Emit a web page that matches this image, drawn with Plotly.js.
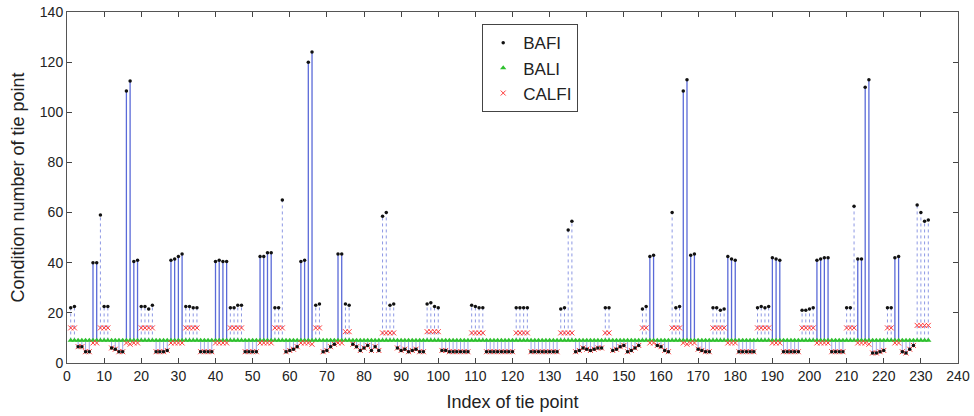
<!DOCTYPE html>
<html>
<head>
<meta charset="utf-8">
<script src="https://cdn.plot.ly/plotly-3.0.1.min.js"></script>
<style>html,body{margin:0;padding:0;background:#fff;}#chart{width:974px;height:416px;}</style>
</head>
<body>
<div id="chart"></div>
<script>
// Condition number of each tie point (index 1..232)
const BAFI = [
  22, 22.5,                         // 1-2
  6.5, 6.5, 4.5, 4.5,               // 3-6
  40, 40,                           // 7-8
  59,                               // 9
  22.5, 22.5,                       // 10-11
  6, 5.5, 4.5, 4.5,                 // 12-15
  108.5, 112.5,                     // 16-17
  40.5, 41,                         // 18-19
  22.5, 22.5, 21.5, 23,             // 20-23
  4.5, 4.5, 4.5, 5,                 // 24-27
  41, 41.5, 42.5, 43.5,             // 28-31
  22.5, 22.5, 22, 22,               // 32-35
  4.5, 4.5, 4.5, 4.5,               // 36-39
  40.5, 41, 40.5, 40.5,             // 40-43
  22, 22, 23, 23,                   // 44-47
  4.5, 4.5, 4.5, 4.5,               // 48-51
  42.5, 42.5, 44, 44,               // 52-55
  22, 22,                           // 56-57
  65,                               // 58
  4.5, 5, 5.5, 6.5,                 // 59-62
  40.5, 41,                         // 63-64
  120, 124,                         // 65-66
  23, 23.5,                         // 67-68
  4.5, 5, 6.5, 7.5,                 // 69-72
  43.5, 43.5,                       // 73-74
  23.5, 23,                         // 75-76
  7.5, 6.5, 5, 6, 7, 5, 6.5, 5,     // 77-84
  58.5, 60,                         // 85-86
  23, 23.5,                         // 87-88
  6, 5, 5.5, 4.5, 5, 5.5, 4.5, 4.5, // 89-96
  23.5, 24, 22.5, 22,               // 97-100
  5, 5, 4.5, 4.5, 4.5, 4.5, 4.5, 4.5, // 101-108
  23, 22.5, 22, 22,                 // 109-112
  4.5, 4.5, 4.5, 4.5, 4.5, 4.5, 4.5, 4.5, // 113-120
  22, 22, 22, 22,                   // 121-124
  4.5, 4.5, 4.5, 4.5, 4.5, 4.5, 4.5, 4.5, // 125-132
  21.5, 22,                         // 133-134
  53, 56.5,                         // 135-136
  4.5, 5, 6, 5.5, 5, 5.5, 6, 6,     // 137-144
  22, 22,                           // 145-146
  5, 5.5, 6.5, 7, 4.5, 5, 6, 7,     // 147-154
  21.5, 22.5,                       // 155-156
  42.5, 43,                         // 157-158
  7, 6.5, 5, 4.5,                   // 159-162
  60,                               // 163
  22, 22.5,                         // 164-165
  108.5, 113,                       // 166-167
  43, 43.5,                         // 168-169
  5.5, 5, 4.5, 4.5,                 // 170-173
  22, 22, 21, 21.5,                 // 174-177
  42.5, 41.5, 41,                   // 178-180
  4.5, 4.5, 4.5, 4.5, 4.5,          // 181-185
  22, 22.5, 22, 22.5,               // 186-189
  42, 41.5, 41,                     // 190-192
  4.5, 4.5, 4.5, 4.5, 4.5,          // 193-197
  21, 21, 21.5, 22,                 // 198-201
  41, 41.5, 42, 42,                 // 202-205
  4.5, 4.5, 4.5, 4.5,               // 206-209
  22, 22,                           // 210-211
  62.5,                             // 212
  41.5, 41.5,                       // 213-214
  110, 113,                         // 215-216
  4, 4, 4.5, 5,                     // 217-220
  22, 22,                           // 221-222
  42, 42.5,                         // 223-224
  4.5, 4, 5.5, 7,                   // 225-228
  63, 60, 56.5, 57                  // 229-232
];

const BALI = [
  9,9,9,9,9,9,9,9,9,9, 9,9,9,9,9,9,9,9,9,9, 9,9,9,9,9,9,9,9,9,9,
  9,9,9,9,9,9,9,9,9,9, 9,9,9,9,9,9,9,9,9,9, 9,9,9,9,9,9,9,9,9,9,
  9,9,9,9,9,9,9,9,9,9, 9,9,9,9,9,9,9,9,9,9, 9,9,9,9,9,9,9,9,9,9,
  9,9,9,9,9,9,9,9,9,9, 9,9,9,9,9,9,9,9,9,9, 9,9,9,9,9,9,9,9,9,9,
  9,9,9,9,9,9,9,9,9,9, 9,9,9,9,9,9,9,9,9,9, 9,9,9,9,9,9,9,9,9,9,
  9,9,9,9,9,9,9,9,9,9, 9,9,9,9,9,9,9,9,9,9, 9,9,9,9,9,9,9,9,9,9,
  9,9,9,9,9,9,9,9,9,9, 9,9,9,9,9,9,9,9,9,9, 9,9,9,9,9,9,9,9,9,9,
  9,9,9,9,9,9,9,9,9,9, 9,9,9,9,9,9,9,9,9,9,9,9
];

const CALFI = [
  14, 14,                           // 1-2
  6.5, 6.5, 4.5, 4.5,               // 3-6
  8, 8,                             // 7-8
  14,                               // 9
  14, 14,                           // 10-11
  6, 5.5, 4.5, 4.5,                 // 12-15
  8, 7.5,                           // 16-17
  8, 8,                             // 18-19
  14, 14, 14, 14,                   // 20-23
  4.5, 4.5, 4.5, 5,                 // 24-27
  8, 8, 8, 8,                       // 28-31
  14, 14, 14, 14,                   // 32-35
  4.5, 4.5, 4.5, 4.5,               // 36-39
  8, 8, 8, 8,                       // 40-43
  14, 14, 14, 14,                   // 44-47
  4.5, 4.5, 4.5, 4.5,               // 48-51
  8, 8, 8, 8,                       // 52-55
  14, 14,                           // 56-57
  14,                               // 58
  4.5, 5, 5.5, 6.5,                 // 59-62
  8, 8,                             // 63-64
  8, 7.5,                           // 65-66
  14, 14,                           // 67-68
  4.5, 5, 6.5, 7.5,                 // 69-72
  8, 8,                             // 73-74
  12.5, 12.5,                       // 75-76
  7.5, 6.5, 5, 6, 7, 5, 6.5, 5,     // 77-84
  12, 12,                           // 85-86
  12, 12,                           // 87-88
  6, 5, 5.5, 4.5, 5, 5.5, 4.5, 4.5, // 89-96
  12.5, 12.5, 12.5, 12.5,           // 97-100
  5, 5, 4.5, 4.5, 4.5, 4.5, 4.5, 4.5, // 101-108
  12, 12, 12, 12,                   // 109-112
  4.5, 4.5, 4.5, 4.5, 4.5, 4.5, 4.5, 4.5, // 113-120
  12, 12, 12, 12,                   // 121-124
  4.5, 4.5, 4.5, 4.5, 4.5, 4.5, 4.5, 4.5, // 125-132
  12, 12,                           // 133-134
  12, 12,                           // 135-136
  4.5, 5, 6, 5.5, 5, 5.5, 6, 6,     // 137-144
  12, 12,                           // 145-146
  5, 5.5, 6.5, 7, 4.5, 5, 6, 7,     // 147-154
  14, 14,                           // 155-156
  8, 8,                             // 157-158
  7, 6.5, 5, 4.5,                   // 159-162
  14,                               // 163
  14, 14,                           // 164-165
  8, 7.5,                           // 166-167
  8, 8,                             // 168-169
  5.5, 5, 4.5, 4.5,                 // 170-173
  14, 14, 14, 14,                   // 174-177
  8, 8, 8,                          // 178-180
  4.5, 4.5, 4.5, 4.5, 4.5,          // 181-185
  14, 14, 14, 14,                   // 186-189
  8, 8, 8,                          // 190-192
  4.5, 4.5, 4.5, 4.5, 4.5,          // 193-197
  14, 14, 14, 14,                   // 198-201
  8, 8, 8, 8,                       // 202-205
  4.5, 4.5, 4.5, 4.5,               // 206-209
  14, 14,                           // 210-211
  14,                               // 212
  8, 8,                             // 213-214
  8, 7.5,                           // 215-216
  4, 4, 4.5, 5,                     // 217-220
  14, 14,                           // 221-222
  8, 8,                             // 223-224
  4.5, 4, 5.5, 7,                   // 225-228
  15, 15, 15, 15                    // 229-232
];

const xTickVals = [0,10,20,30,40,50,60,70,80,90,100,110,120,130,140,150,160,170,180,190,200,210,220,230,240];
const yTickVals = [0,20,40,60,80,100,120,140];

const N = BAFI.length;
const idx = [];
for (let i = 0; i < N; i++) idx.push(i + 1);

// stems from BALI level to BAFI value
const solidX = [], solidY = [], dotX = [], dotY = [], lowX = [], lowY = [];
for (let i = 0; i < N; i++) {
  const x = idx[i];
  if (BAFI[i] > BALI[i] && CALFI[i] < BALI[i]) {
    solidX.push(x, x, null); solidY.push(BALI[i], BAFI[i], null);
  } else if (BAFI[i] > BALI[i]) {
    dotX.push(x, x, null); dotY.push(BALI[i], BAFI[i], null);
  } else {
    lowX.push(x, x, null); lowY.push(BALI[i], BAFI[i], null);
  }
}

const font = "Liberation Sans, Arial, sans-serif";
const narrow = "Liberation Sans Narrow, Liberation Sans, Arial, sans-serif";

const traces = [
  {x: dotX, y: dotY, mode: 'lines', type: 'scatter', showlegend: false, hoverinfo: 'skip',
   line: {color: '#8d98e4', width: 1, dash: 'dot'}},
  {x: lowX, y: lowY, mode: 'lines', type: 'scatter', showlegend: false, hoverinfo: 'skip',
   line: {color: '#9fa8ea', width: 1}},
  {x: solidX, y: solidY, mode: 'lines', type: 'scatter', showlegend: false, hoverinfo: 'skip',
   line: {color: '#5a6ad8', width: 1.3}},
  {x: idx, y: BALI, name: 'BALI', mode: 'markers', type: 'scatter',
   marker: {symbol: 'triangle-up', size: 5.5, color: '#2ec02e'}},
  {x: idx, y: CALFI, name: 'CALFI', mode: 'markers', type: 'scatter',
   marker: {symbol: 'x-thin', size: 5, color: '#ff3b3b', line: {color: '#ff3b3b', width: 1}}},
  {x: idx, y: BAFI, name: 'BAFI', mode: 'markers', type: 'scatter',
   marker: {symbol: 'circle', size: 3.5, color: '#111'}}
];

const layout = {
  width: 974, height: 416,
  margin: {l: 67, r: 16, t: 12, b: 53},
  paper_bgcolor: '#fff', plot_bgcolor: '#fff',
  showlegend: true,
  legend: {
    x: 0.466, y: 0.965, xanchor: 'left', yanchor: 'top',
    bgcolor: '#fff', bordercolor: '#444', borderwidth: 1,
    font: {family: font, size: 17, color: '#222'},
    traceorder: 'normal',
    itemwidth: 30,
    tracegroupgap: 0
  },
  xaxis: {
    range: [0, 240], tickvals: xTickVals, ticktext: xTickVals.map(String),
    ticks: 'inside', ticklen: 5, tickcolor: '#444',
    showline: true, linecolor: '#555', linewidth: 1, mirror: 'ticks',
    showgrid: false, zeroline: false,
    tickfont: {family: narrow, size: 14, color: '#222'},
    title: {text: 'Index of tie point', font: {family: font, size: 18, color: '#222'}, standoff: 12}
  },
  yaxis: {
    range: [0, 140], tickvals: yTickVals, ticktext: yTickVals.map(String),
    ticks: 'inside', ticklen: 5, tickcolor: '#444',
    showline: true, linecolor: '#555', linewidth: 1, mirror: 'ticks',
    showgrid: false, zeroline: false,
    tickfont: {family: narrow, size: 14, color: '#222'},
    title: {text: 'Condition number of tie point', font: {family: font, size: 18, color: '#222'}, standoff: 10}
  }
};

// legend order: BAFI, BALI, CALFI
traces[5].legendrank = 1; traces[3].legendrank = 2; traces[4].legendrank = 3;

Plotly.newPlot('chart', traces, layout, {displayModeBar: false, staticPlot: true});
</script>
</body>
</html>
